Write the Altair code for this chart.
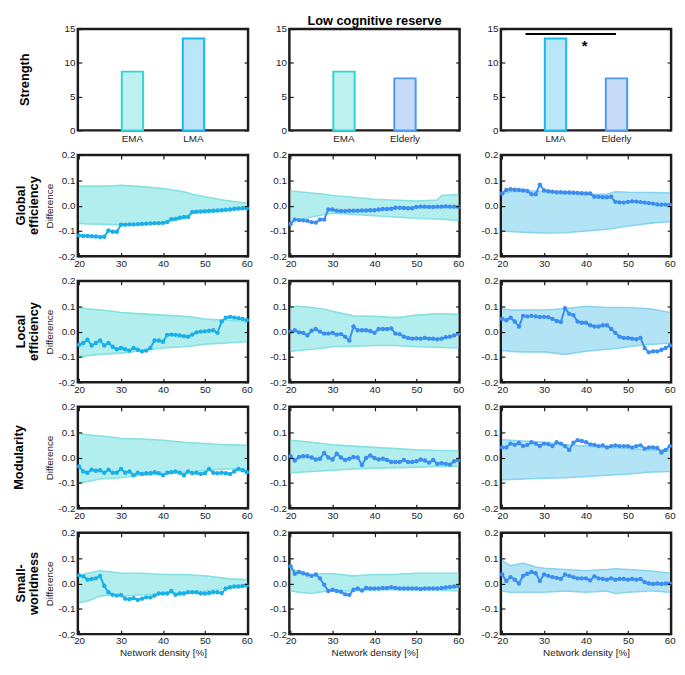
import altair as alt
import pandas as pd

# ---------------- data ----------------
DENSITY = list(range(20, 61))
BAND_X = [20, 22, 25, 28, 30, 35, 40, 45, 47, 50, 55, 56, 60]
X_TICKS = [20, 30, 40, 50, 60]
Y_TICKS = [-0.2, -0.1, 0.0, 0.1, 0.2]
BAR_TICKS = [0, 5, 10, 15]
GROUPS = ["EMA", "LMA", "Elderly"]
STRENGTH = [8.7, 13.6, 7.7]
COMPARISONS = [("EMA", "LMA"), ("EMA", "Elderly"), ("LMA", "Elderly")]
ROW_LABELS = ["Strength", "Global\nefficiency", "Local\nefficiency", "Modularity", "Small-\nworldness"]

# Global efficiency
ge_1 = [-0.118, -0.12, -0.12, -0.121, -0.122, -0.124, -0.123, -0.098, -0.103, -0.103,
        -0.075, -0.075, -0.074, -0.074, -0.073, -0.072, -0.071, -0.07, -0.069, -0.069,
        -0.068, -0.065, -0.053, -0.052, -0.048, -0.045, -0.045, -0.025, -0.024, -0.023,
        -0.022, -0.021, -0.02, -0.019, -0.018, -0.016, -0.015, -0.012, -0.011, -0.01, -0.01]
ge_2 = [-0.072, -0.055, -0.057, -0.058, -0.06, -0.065, -0.067, -0.055, -0.055, -0.015,
        -0.015, -0.02, -0.021, -0.021, -0.02, -0.02, -0.02, -0.019, -0.019, -0.018,
        -0.018, -0.015, -0.013, -0.013, -0.012, -0.008, -0.008, -0.009, -0.01, -0.01,
        -0.005, -0.004, -0.004, -0.005, -0.005, -0.004, -0.004, -0.003, -0.004, -0.004, -0.005]
ge_3 = [0.048, 0.062, 0.065, 0.063, 0.062, 0.06, 0.058, 0.045, 0.045, 0.083,
        0.06, 0.057, 0.055, 0.053, 0.053, 0.052, 0.052, 0.051, 0.05, 0.049,
        0.048, 0.048, 0.035, 0.035, 0.033, 0.033, 0.035, 0.015, 0.013, 0.012,
        0.015, 0.017, 0.016, 0.014, 0.012, 0.01, 0.008, 0.005, 0.004, 0.004, 0.003]
ge_hi_1 = [0.077, 0.077, 0.077, 0.078, 0.08, 0.075, 0.068, 0.055, 0.045, 0.035, 0.02, 0.018, 0.01]
ge_lo_1 = [-0.07, -0.072, -0.073, -0.075, -0.075, -0.072, -0.068, -0.05, -0.03, -0.025, -0.018, -0.016, -0.012]
ge_hi_2 = [0.058, 0.055, 0.05, 0.045, 0.04, 0.033, 0.025, 0.021, 0.02, 0.018, 0.022, 0.04, 0.044]
ge_lo_2 = [-0.06, -0.055, -0.045, -0.035, -0.03, -0.035, -0.04, -0.045, -0.047, -0.05, -0.053, -0.054, -0.058]
ge_hi_3 = [0.045, 0.055, 0.058, 0.058, 0.055, 0.05, 0.045, 0.045, 0.055, 0.053, 0.052, 0.052, 0.05]
ge_lo_3 = [-0.1, -0.102, -0.105, -0.107, -0.108, -0.107, -0.1, -0.093, -0.088, -0.08, -0.07, -0.068, -0.063]

# Local efficiency
le_1 = [-0.052, -0.045, -0.032, -0.055, -0.045, -0.035, -0.055, -0.045, -0.06, -0.07,
        -0.065, -0.07, -0.075, -0.065, -0.072, -0.078, -0.075, -0.065, -0.035, -0.035,
        -0.04, -0.013, -0.012, -0.013, -0.015, -0.018, -0.02, -0.012, -0.003, 0.0,
        0.001, 0.003, 0.005, -0.005, 0.04, 0.055, 0.058, 0.055, 0.053, 0.05, 0.045]
le_2 = [0.0, 0.005, -0.003, -0.005, -0.015, 0.003, 0.01, 0.0, -0.008, -0.008,
        -0.005, -0.012, -0.01, -0.02, -0.035, 0.02, 0.005, 0.005, 0.005, 0.002,
        -0.005, 0.01, 0.01, 0.01, 0.012, -0.008, -0.01, -0.02, -0.025, -0.028,
        -0.027, -0.028, -0.025, -0.028, -0.028, -0.03, -0.028, -0.022, -0.02, -0.015, -0.008]
le_3 = [0.05, 0.045, 0.055, 0.04, 0.02, 0.062, 0.06, 0.062, 0.06, 0.058,
        0.058, 0.057, 0.05, 0.042, 0.038, 0.092, 0.07, 0.065, 0.04, 0.035,
        0.035, 0.025, 0.02, 0.02, 0.025, 0.025, 0.01, -0.005, -0.02, -0.025,
        -0.025, -0.028, -0.03, -0.025, -0.065, -0.082, -0.078, -0.078, -0.072, -0.065, -0.055]
le_hi_1 = [0.095, 0.09, 0.085, 0.08, 0.075, 0.07, 0.065, 0.06, 0.057, 0.05, 0.045, 0.044, 0.04]
le_lo_1 = [-0.1, -0.095, -0.09, -0.087, -0.085, -0.075, -0.065, -0.06, -0.057, -0.05, -0.045, -0.044, -0.04]
le_hi_2 = [0.098, 0.1, 0.095, 0.088, 0.08, 0.062, 0.06, 0.055, 0.058, 0.065, 0.07, 0.07, 0.068]
le_lo_2 = [-0.078, -0.075, -0.07, -0.065, -0.06, -0.058, -0.055, -0.055, -0.057, -0.06, -0.062, -0.063, -0.065]
le_hi_3 = [0.09, 0.085, 0.085, 0.085, 0.085, 0.09, 0.1, 0.095, 0.095, 0.095, 0.09, 0.088, 0.075]
le_lo_3 = [-0.075, -0.078, -0.08, -0.08, -0.08, -0.09, -0.078, -0.07, -0.067, -0.06, -0.05, -0.05, -0.045]

# Modularity
mod_1 = [-0.035, -0.055, -0.06, -0.048, -0.052, -0.05, -0.06, -0.048, -0.06, -0.06,
         -0.045, -0.06, -0.055, -0.07, -0.06, -0.065, -0.062, -0.062, -0.058, -0.062,
         -0.07, -0.06, -0.058, -0.055, -0.06, -0.07, -0.055, -0.062, -0.06, -0.065,
         -0.062, -0.045, -0.06, -0.062, -0.06, -0.062, -0.065, -0.055, -0.045, -0.05, -0.058]
mod_2 = [0.005, -0.012, 0.002, 0.005, 0.005, 0.0, -0.008, -0.005, 0.018, 0.0,
         -0.008, 0.015, 0.0, -0.01, -0.005, 0.002, 0.0, -0.03, -0.002, 0.008,
         -0.002, -0.008, -0.005, -0.01, -0.018, -0.018, -0.018, -0.01, -0.018, -0.018,
         -0.015, -0.008, -0.012, -0.02, -0.01, -0.025, -0.022, -0.025, -0.028, -0.015, -0.01]
mod_3 = [0.04, 0.04, 0.055, 0.05, 0.057, 0.045, 0.05, 0.06, 0.055, 0.045,
         0.055, 0.053, 0.045, 0.06, 0.055, 0.045, 0.03, 0.058, 0.068, 0.065,
         0.06, 0.052, 0.05, 0.045, 0.048, 0.04, 0.045, 0.048, 0.045, 0.045,
         0.045, 0.04, 0.045, 0.048, 0.035, 0.04, 0.04, 0.038, 0.02, 0.03, 0.045]
mod_hi_1 = [0.095, 0.09, 0.085, 0.08, 0.075, 0.073, 0.068, 0.06, 0.058, 0.055, 0.05, 0.05, 0.048]
mod_lo_1 = [-0.1, -0.095, -0.085, -0.082, -0.08, -0.07, -0.065, -0.058, -0.055, -0.05, -0.045, -0.045, -0.045]
mod_hi_2 = [0.068, 0.065, 0.06, 0.054, 0.05, 0.045, 0.04, 0.035, 0.033, 0.03, 0.028, 0.028, 0.027]
mod_lo_2 = [-0.06, -0.058, -0.055, -0.052, -0.05, -0.045, -0.042, -0.04, -0.04, -0.038, -0.035, -0.035, -0.035]
mod_hi_3 = [0.07, 0.068, 0.065, 0.062, 0.06, 0.05, 0.045, 0.04, 0.038, 0.035, 0.03, 0.03, 0.03]
mod_lo_3 = [-0.088, -0.087, -0.085, -0.083, -0.082, -0.08, -0.075, -0.07, -0.068, -0.065, -0.058, -0.057, -0.055]

# Small-worldness
sw_1 = [0.032, 0.028, 0.015, 0.018, 0.02, 0.03, -0.01, -0.035, -0.045, -0.048,
        -0.045, -0.06, -0.062, -0.058, -0.065, -0.06, -0.055, -0.055, -0.048, -0.04,
        -0.04, -0.04, -0.03, -0.045, -0.04, -0.04, -0.035, -0.035, -0.035, -0.04,
        -0.04, -0.038, -0.035, -0.035, -0.038, -0.02, -0.015, -0.012, -0.012, -0.01, -0.008]
sw_2 = [0.068, 0.038, 0.045, 0.04, 0.035, 0.03, 0.035, 0.02, -0.005, -0.03,
        -0.025, -0.03, -0.033, -0.043, -0.045, -0.025, -0.02, -0.028, -0.018, -0.02,
        -0.02, -0.02, -0.018, -0.018, -0.015, -0.018, -0.02, -0.02, -0.02, -0.02,
        -0.02, -0.022, -0.02, -0.02, -0.02, -0.02, -0.018, -0.016, -0.014, -0.012, -0.01]
sw_3 = [0.035, 0.01, 0.025, 0.015, 0.0, 0.03, 0.038, 0.045, 0.04, 0.01,
        0.035, 0.03, 0.025, 0.022, 0.018, 0.035, 0.03, 0.025, 0.02, 0.02,
        0.02, 0.012, 0.028, 0.02, 0.018, 0.015, 0.02, 0.015, 0.018, 0.018,
        0.015, 0.018, 0.015, 0.018, 0.005, 0.0, -0.002, 0.0, -0.002, 0.0, 0.0]
sw_hi_1 = [0.03, 0.04, 0.05, 0.045, 0.04, 0.04, 0.035, 0.035, 0.033, 0.03, 0.02, 0.018, 0.015]
sw_lo_1 = [-0.075, -0.07, -0.05, -0.045, -0.05, -0.045, -0.04, -0.035, -0.033, -0.03, -0.02, -0.018, -0.01]
sw_hi_2 = [0.06, 0.045, 0.035, 0.038, 0.038, 0.03, 0.035, 0.035, 0.038, 0.04, 0.04, 0.04, 0.04]
sw_lo_2 = [-0.03, -0.035, -0.04, -0.032, -0.03, -0.03, -0.025, -0.025, -0.025, -0.025, -0.025, -0.027, -0.03]
sw_hi_3 = [0.09, 0.07, 0.08, 0.065, 0.06, 0.055, 0.05, 0.055, 0.058, 0.055, 0.05, 0.048, 0.04]
sw_lo_3 = [-0.03, -0.035, -0.035, -0.035, -0.035, -0.03, -0.035, -0.03, -0.04, -0.035, -0.03, -0.03, -0.035]

LINE_ROWS = [
    [(ge_1, ge_lo_1, ge_hi_1), (ge_2, ge_lo_2, ge_hi_2), (ge_3, ge_lo_3, ge_hi_3)],
    [(le_1, le_lo_1, le_hi_1), (le_2, le_lo_2, le_hi_2), (le_3, le_lo_3, le_hi_3)],
    [(mod_1, mod_lo_1, mod_hi_1), (mod_2, mod_lo_2, mod_hi_2), (mod_3, mod_lo_3, mod_hi_3)],
    [(sw_1, sw_lo_1, sw_hi_1), (sw_2, sw_lo_2, sw_hi_2), (sw_3, sw_lo_3, sw_hi_3)],
]

# ---------------- style ----------------
W, H = 173, 103
FONT = "Liberation Sans"
INK = "#1c1c1c"
BAR_FILL = ["#bdf0ee", "#b9e6f8", "#c8dcfa"]
BAR_STROKE = ["#30d5d5", "#1ab7ee", "#4a9af6"]
BAND_FILL = {"EMA": "#b3eeee", "LMA": "#b3e4f5"}
BAND_EDGE = {"EMA": "#86e1e1", "LMA": "#88d3f0"}
LINE_COLOR = {"LMA": "#19b0ea", "Elderly": "#3b8ef0"}
LABEL_X = [-54, -58, -58, -60, -58]

XS = alt.Scale(domain=[19.7, 60.3], nice=False, zero=False)
YS = alt.Scale(domain=[-0.2, 0.2], nice=False, zero=False)
LABEL_EXPR = "datum.value < 0 ? '-' + format(-datum.value, '.1f') : format(datum.value, '.1f')"


def tick_axis(orient, offset, values):
    return alt.Axis(orient=orient, offset=offset, values=values, labels=False,
                    domain=False, ticks=True, tickSize=4, tickWidth=1.2,
                    tickColor=INK, title=None, grid=False, zindex=2)


def row_label(row):
    df = pd.DataFrame({"t": [ROW_LABELS[row]]})
    return alt.Chart(df).mark_text(
        angle=270, fontSize=13, fontWeight="bold", lineBreak="\n", lineHeight=14,
        align="center", baseline="middle", color="black", font=FONT
    ).encode(text="t:N", x=alt.value(LABEL_X[row]), y=alt.value(H / 2))


def bar_panel(col):
    g1, g2 = COMPARISONS[col]
    df = pd.DataFrame({"group": [g1, g2],
                       "strength": [STRENGTH[GROUPS.index(g1)], STRENGTH[GROUPS.index(g2)]]})
    ys = alt.Scale(domain=[0, 15], nice=False)
    xs = alt.Scale(paddingInner=0.65, paddingOuter=0.72)
    bars = alt.Chart(df).mark_bar(strokeWidth=2).encode(
        x=alt.X("group:N", sort=[g1, g2], scale=xs,
                axis=alt.Axis(orient="bottom", labelAngle=0, ticks=False, tickSize=0,
                              domain=False, labelPadding=3, title=None)),
        y=alt.Y("strength:Q", scale=ys,
                axis=alt.Axis(orient="left", values=BAR_TICKS, ticks=False, tickSize=0,
                              domain=False, title=None, labelPadding=3)),
        fill=alt.Fill("group:N", scale=alt.Scale(domain=GROUPS, range=BAR_FILL), legend=None),
        stroke=alt.Stroke("group:N", scale=alt.Scale(domain=GROUPS, range=BAR_STROKE), legend=None),
    )
    t1 = alt.Chart(df).mark_point(opacity=0).encode(
        x=alt.X("group:N", sort=[g1, g2], scale=xs, axis=None),
        y=alt.Y("strength:Q", scale=ys, axis=tick_axis("right", -W, BAR_TICKS)))
    t2 = alt.Chart(df).mark_point(opacity=0).encode(
        x=alt.X("group:N", sort=[g1, g2], scale=xs, axis=None),
        y=alt.Y("strength:Q", scale=ys, axis=tick_axis("left", -W, BAR_TICKS)))
    layers = [bars, t1, t2]
    one = pd.DataFrame({"t": ["Low cognitive reserve"]})
    if col == 0:
        layers.append(row_label(0))
    if col == 1:
        layers.append(alt.Chart(one).mark_text(
            fontSize=13, fontWeight="bold", align="center", baseline="middle",
            color="black", font=FONT).encode(text="t:N", x=alt.value(W / 2), y=alt.value(-8)))
    if col == 2:
        layers.append(alt.Chart(one).mark_rule(color="black", strokeWidth=2).encode(
            x=alt.value(25), x2=alt.value(117), y=alt.value(5)))
        layers.append(alt.Chart(pd.DataFrame({"t": ["*"]})).mark_text(
            fontSize=15, fontWeight="bold", align="center", baseline="middle",
            color="black", font=FONT).encode(text="t:N", x=alt.value(85), y=alt.value(17)))
    return alt.layer(*layers).resolve_axis(x="independent", y="independent").properties(
        width=W, height=H)


def line_panel(row, col):
    vals, lo, hi = LINE_ROWS[row - 1][col]
    ref, cmp_ = COMPARISONS[col]
    line_df = pd.DataFrame({"density": DENSITY, "diff": vals})
    band_df = pd.DataFrame({"density": BAND_X, "lo": lo, "hi": hi})
    last = row == 4
    x_lab = alt.X("density:Q", scale=XS, axis=alt.Axis(
        orient="bottom", values=X_TICKS, ticks=False, tickSize=0, domain=False,
        labelPadding=2, title="Network density [%]" if last else None,
        titlePadding=2, titleFontWeight="normal", titleFontSize=10))
    y_lab = alt.Y("lo:Q", scale=YS, axis=alt.Axis(
        orient="left", values=Y_TICKS, labelExpr=LABEL_EXPR, ticks=False, tickSize=0,
        domain=False, labelPadding=3, title="Difference" if col == 0 else None,
        titlePadding=4, titleFontWeight="normal", titleFontSize=10))
    area = alt.Chart(band_df).mark_area(color=BAND_FILL[ref], opacity=1).encode(
        x=x_lab, y=y_lab, y2="hi:Q")
    hi_line = alt.Chart(band_df).mark_line(color=BAND_EDGE[ref], strokeWidth=1.6).encode(
        x=alt.X("density:Q", scale=XS, axis=tick_axis("top", -H, X_TICKS)),
        y=alt.Y("hi:Q", scale=YS, axis=tick_axis("right", -W, Y_TICKS)))
    lo_line = alt.Chart(band_df).mark_line(color=BAND_EDGE[ref], strokeWidth=1.6).encode(
        x=alt.X("density:Q", scale=XS, axis=tick_axis("bottom", -H, X_TICKS)),
        y=alt.Y("lo:Q", scale=YS, axis=tick_axis("left", -W, Y_TICKS)))
    lc = LINE_COLOR[cmp_]
    line = alt.Chart(line_df).mark_line(
        color=lc, strokeWidth=2,
        point=alt.OverlayMarkDef(filled=True, size=20, color=lc, opacity=1)
    ).encode(x=alt.X("density:Q", scale=XS, axis=None),
             y=alt.Y("diff:Q", scale=YS, axis=None))
    layers = [area, hi_line, lo_line, line]
    if col == 0:
        layers.append(row_label(row))
    return alt.layer(*layers).resolve_axis(x="independent", y="independent").properties(
        width=W, height=H)


panels = [bar_panel(c) for c in range(3)]
for r in range(1, 5):
    panels += [line_panel(r, c) for c in range(3)]

chart = alt.concat(*panels, columns=3, spacing={"row": 25, "column": 42},
                   bounds="flush").properties(
    padding={"left": 3, "top": 0, "right": 0, "bottom": 0}
).configure(font=FONT).configure_view(
    stroke=INK, strokeWidth=2.5
).configure_axis(
    labelFont=FONT, titleFont=FONT, labelFontSize=10, labelColor=INK,
    titleColor=INK, grid=False
)

chart.save("out.html", embed_options={"renderer": "svg", "actions": False})
